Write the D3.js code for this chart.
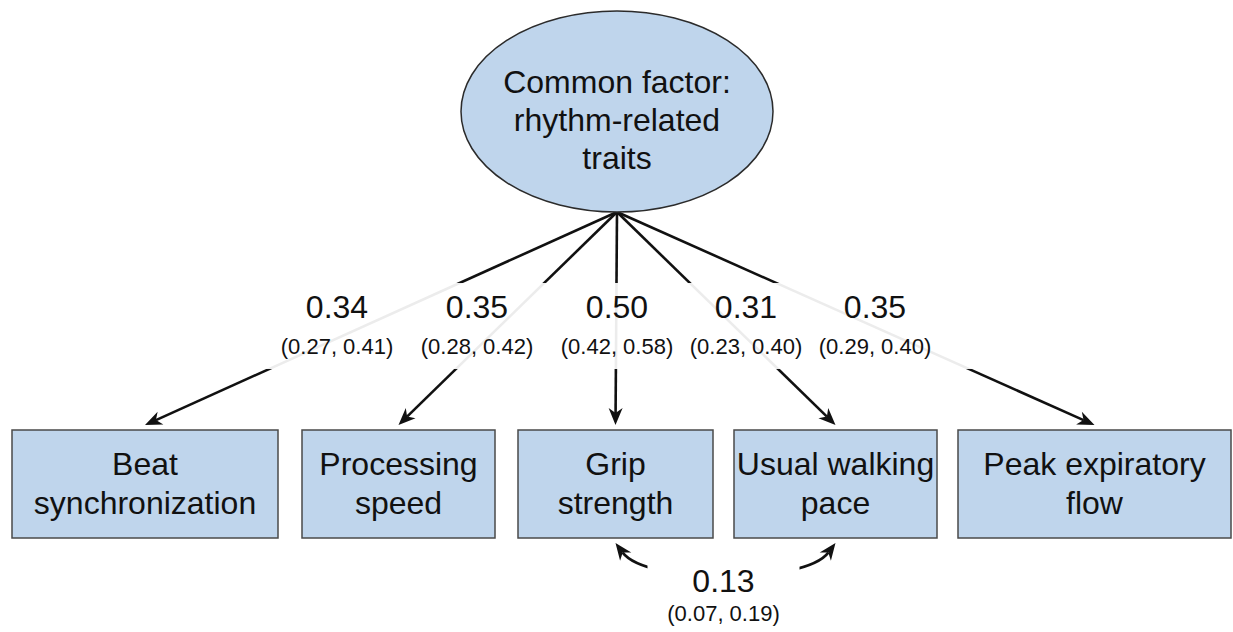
<!DOCTYPE html>
<html>
<head>
<meta charset="utf-8">
<script src="https://cdn.jsdelivr.net/npm/d3@7"></script>
<style>
body { margin: 0; background: #fff; }
svg { display: block; font-family: "Liberation Sans", Arial, Helvetica, sans-serif; }
</style>
</head>
<body>
<svg id="chart" width="1233" height="632"></svg>
<script>
// data
var factorLines = ["Common factor:", "rhythm-related", "traits"];
var indicators = [
    ["Beat", "synchronization"],
    ["Processing", "speed"],
    ["Grip", "strength"],
    ["Usual walking", "pace"],
    ["Peak expiratory", "flow"]
];
var loadings = [0.34, 0.35, 0.50, 0.31, 0.35];
var loadingLow = [0.27, 0.28, 0.42, 0.23, 0.29];
var loadingHigh = [0.41, 0.42, 0.58, 0.40, 0.40];
var covPair = [2, 3];
var covValue = 0.13, covLow = 0.07, covHigh = 0.19;

// layout
var svg = d3.select("#chart")
    , fmt = d3.format(".2f")
    , ci = function(lo, hi) { return "(" + fmt(lo) + ", " + fmt(hi) + ")"; }
    , fill = "#bfd5ec"
    , ink = "#111"
    , factor = {x: 617, y: 111.5, rx: 156, ry: 100.5}
    , boxTop = 430
    , boxH = 108
    // boxes are not all the same width
    , boxEdges = [[12, 278], [302, 495], [518, 713], [734, 937], [958, 1231]]
    , labelX = d3.scaleLinear().domain([0, 2, 4]).range([337, 617, 875])
    , bigFont = 32
    , smallFont = 22
    ;

var boxes = indicators.map(function(lines, i) {
    var e = boxEdges[i];
    return {lines: lines, x0: e[0], x1: e[1], cx: (e[0] + e[1]) / 2};
});

// filled notched arrowhead, tip at t, u = unit direction of travel
function head(t, u) {
    var L = 17, w = 7, n = 12,
        p = [-u[1], u[0]],
        b = [t[0] - L * u[0], t[1] - L * u[1]];
    return "M" + t + "L" + [b[0] + w * p[0], b[1] + w * p[1]] +
        "L" + [t[0] - n * u[0], t[1] - n * u[1]] +
        "L" + [b[0] - w * p[0], b[1] - w * p[1]] + "Z";
}

var origin = [factor.x, factor.y + factor.ry];
var g = svg.append("g");

// loading arrows
boxes.forEach(function(b) {
    var tip = [b.cx, boxTop - 5],
        dx = tip[0] - origin[0], dy = tip[1] - origin[1],
        len = Math.sqrt(dx * dx + dy * dy),
        u = [dx / len, dy / len];
    g.append("line")
        .attr("x1", origin[0]).attr("y1", origin[1])
        .attr("x2", tip[0] - 12 * u[0]).attr("y2", tip[1] - 12 * u[1])
        .attr("stroke", ink)
        .attr("stroke-width", 2.6);
    g.append("path")
        .attr("d", head(tip, u))
        .attr("fill", ink);
});

// labels sit on a nearly opaque white band, lines show faintly through
g.append("rect")
    .attr("x", 0).attr("y", 283)
    .attr("width", 1233).attr("height", 86)
    .attr("fill", "#fff")
    .attr("fill-opacity", 0.92);

var labels = g.selectAll(".loading")
    .data(loadings)
    .enter().append("g")
    .attr("class", "loading");

labels.append("text")
    .attr("x", function(d, i) { return labelX(i); })
    .attr("y", 318)
    .attr("text-anchor", "middle")
    .attr("font-size", bigFont)
    .attr("fill", ink)
    .text(function(d) { return fmt(d); });

labels.append("text")
    .attr("x", function(d, i) { return labelX(i); })
    .attr("y", 354)
    .attr("text-anchor", "middle")
    .attr("font-size", smallFont)
    .attr("fill", ink)
    .text(function(d, i) { return ci(loadingLow[i], loadingHigh[i]); });

// common factor ellipse
g.append("ellipse")
    .attr("cx", factor.x).attr("cy", factor.y)
    .attr("rx", factor.rx).attr("ry", factor.ry)
    .attr("fill", fill)
    .attr("stroke", "#2b2b2b")
    .attr("stroke-width", 1.5);

g.append("text")
    .attr("text-anchor", "middle")
    .attr("font-size", bigFont)
    .attr("fill", ink)
    .selectAll("tspan")
    .data(factorLines)
    .enter().append("tspan")
    .attr("x", factor.x)
    .attr("y", function(d, i) { return factor.y - 19 + (i - 1) * 38 + 38; })
    .text(function(d) { return d; });

// indicator boxes
var box = g.selectAll(".box")
    .data(boxes)
    .enter().append("g")
    .attr("class", "box");

box.append("rect")
    .attr("x", function(d) { return d.x0; })
    .attr("y", boxTop)
    .attr("width", function(d) { return d.x1 - d.x0; })
    .attr("height", boxH)
    .attr("fill", fill)
    .attr("stroke", "#4a4a4a")
    .attr("stroke-width", 1.5);

box.append("text")
    .attr("text-anchor", "middle")
    .attr("font-size", bigFont)
    .attr("fill", ink)
    .selectAll("tspan")
    .data(function(d) { return d.lines.map(function(l) { return {t: l, x: d.cx}; }); })
    .enter().append("tspan")
    .attr("x", function(d) { return d.x; })
    .attr("y", function(d, i) { return boxTop + 45 + i * 39; })
    .text(function(d) { return d.t; });

// residual covariance between grip strength and walking pace
var a = [boxes[covPair[0]].cx, boxTop + boxH + 5],
    b = [boxes[covPair[1]].cx, boxTop + boxH + 5],
    ua = [0.6, 0.8], ub = [-0.6, 0.8],
    sa = [a[0] + 12 * ua[0], a[1] + 12 * ua[1]],
    sb = [b[0] + 12 * ub[0], b[1] + 12 * ub[1]],
    c1 = [sa[0] + 40 * ua[0], sa[1] + 40 * ua[1]],
    c2 = [sb[0] + 40 * ub[0], sb[1] + 40 * ub[1]],
    covX = (a[0] + b[0]) / 2 - 2;

g.append("path")
    .attr("d", "M" + sa + "C" + c1 + " " + c2 + " " + sb)
    .attr("fill", "none")
    .attr("stroke", ink)
    .attr("stroke-width", 2.6);

g.append("path").attr("d", head(a, [-ua[0], -ua[1]])).attr("fill", ink);
g.append("path").attr("d", head(b, [-ub[0], -ub[1]])).attr("fill", ink);

g.append("rect")
    .attr("x", covX - 76).attr("y", 552)
    .attr("width", 152).attr("height", 80)
    .attr("fill", "#fff");

g.append("text")
    .attr("x", covX).attr("y", 592)
    .attr("text-anchor", "middle")
    .attr("font-size", bigFont)
    .attr("fill", ink)
    .text(fmt(covValue));

g.append("text")
    .attr("x", covX).attr("y", 621)
    .attr("text-anchor", "middle")
    .attr("font-size", smallFont)
    .attr("fill", ink)
    .text(ci(covLow, covHigh));
</script>
</body>
</html>
